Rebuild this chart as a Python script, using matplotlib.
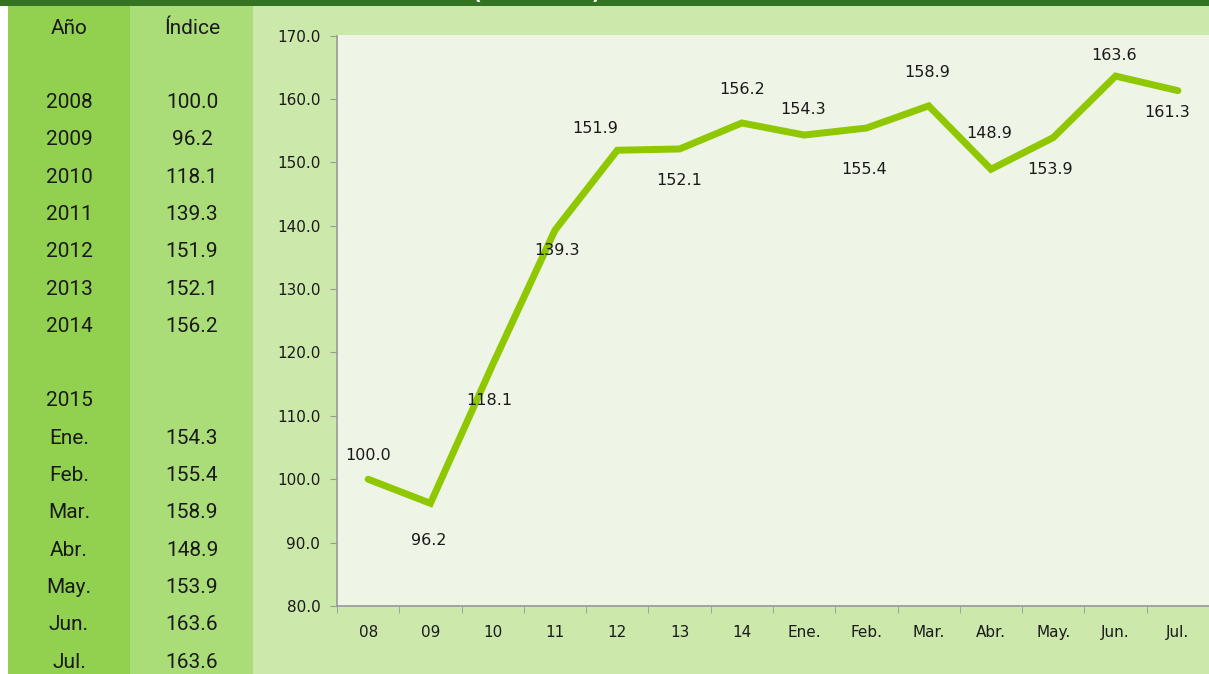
import matplotlib
matplotlib.use("Agg")
import matplotlib.pyplot as plt
from matplotlib.patches import Rectangle

# ---- data ----
categorias = ["08", "09", "10", "11", "12", "13", "14", "Ene.", "Feb.", "Mar.", "Abr.", "May.", "Jun.", "Jul."]
valores = [100.0, 96.2, 118.1, 139.3, 151.9, 152.1, 156.2, 154.3, 155.4, 158.9, 148.9, 153.9, 163.6, 161.3]
y_ticks = [80, 90, 100, 110, 120, 130, 140, 150, 160, 170]

tabla_anio = ["Año", "", "2008", "2009", "2010", "2011", "2012", "2013", "2014", "", "2015",
              "Ene.", "Feb.", "Mar.", "Abr.", "May.", "Jun.", "Jul."]
tabla_indice = ["Índice", "", "100.0", "96.2", "118.1", "139.3", "151.9", "152.1", "156.2", "", "",
                "154.3", "155.4", "158.9", "148.9", "153.9", "163.6", "163.6"]

# label offsets in pixels (dx, dy upward)
label_off = [(0, 24), (-2, -37), (-3, -36), (2, -20), (-22, 22), (0, -32), (0, 33),
             (-1, 26), (-2, -41), (-2, 33), (-2, 36), (-3, -32), (-2, 21), (-11, -22)]

W, H = 1209, 674
fig = plt.figure(figsize=(W / 100, H / 100), dpi=100)
fig.patch.set_facecolor("white")

# background axes in pixel coordinates
bg = fig.add_axes([0, 0, 1, 1])
bg.set_xlim(0, W)
bg.set_ylim(H, 0)
bg.axis("off")

C_DARK = "#347322"
C_ANIO = "#92d050"
C_IND = "#aadc78"
C_RIGHT = "#cce8ab"
C_PLOT = "#eef5e6"

bg.add_patch(Rectangle((8, 6), 122, H - 6, color=C_ANIO, lw=0))
bg.add_patch(Rectangle((130, 6), 123, H - 6, color=C_IND, lw=0))
bg.add_patch(Rectangle((253, 6), W - 253, H - 6, color=C_RIGHT, lw=0))
bg.add_patch(Rectangle((0, 0), W, 6, color=C_DARK, lw=0))
bg.text(537, 3.5, "(2008=100)", color="white", fontsize=14, fontweight="bold",
        ha="center", va="bottom")

tfam = ["Roboto", "DejaVu Sans"]
for i, (a, b) in enumerate(zip(tabla_anio, tabla_indice)):
    y = 28 + 37.3 * i
    if a:
        bg.text(69, y, a, ha="center", va="center", fontsize=15, family=tfam, color="#1a1a1a")
    if b:
        bg.text(192, y, b, ha="center", va="center", fontsize=15, family=tfam, color="#1a1a1a")

# chart axes
x0, x1 = 337, 1209
ytop, ybot = 35.5, 606
ax = fig.add_axes([x0 / W, (H - ybot) / H, (x1 - x0) / W, (ybot - ytop) / H])
ax.set_facecolor(C_PLOT)
n = len(categorias)
xs = list(range(n))
ax.plot(xs, valores, color="#8fc800", lw=5, solid_joinstyle="miter",
        solid_capstyle="round", zorder=3)
ax.set_xlim(-0.5, n - 0.5)
ax.set_ylim(80, 170)
ax.set_yticks(y_ticks)
ax.set_yticklabels([f"{v:.1f}" for v in y_ticks])
ax.set_xticks(xs)
ax.set_xticklabels(categorias)
ax.set_xticks([i - 0.5 for i in range(n + 1)], minor=True)
ax.tick_params(axis="x", which="major", length=0, pad=14, labelsize=11, colors="#1a1a1a")
ax.tick_params(axis="x", which="minor", length=5, direction="out", color="#999999")
ax.tick_params(axis="y", length=5, direction="out", color="#999999", pad=7, labelsize=11,
               labelcolor="#1a1a1a")
for s in ["top", "right"]:
    ax.spines[s].set_visible(False)
for s in ["left", "bottom"]:
    ax.spines[s].set_color("#999999")
    ax.spines[s].set_linewidth(1.2)

for i, v in enumerate(valores):
    dx, dy = label_off[i]
    ax.annotate(f"{v:.1f}", (i, v), xytext=(dx, dy), textcoords="offset pixels",
                ha="center", va="center", fontsize=11.5, color="#1a1a1a", zorder=4)

fig.savefig("out.png", dpi=100, facecolor=fig.get_facecolor())
